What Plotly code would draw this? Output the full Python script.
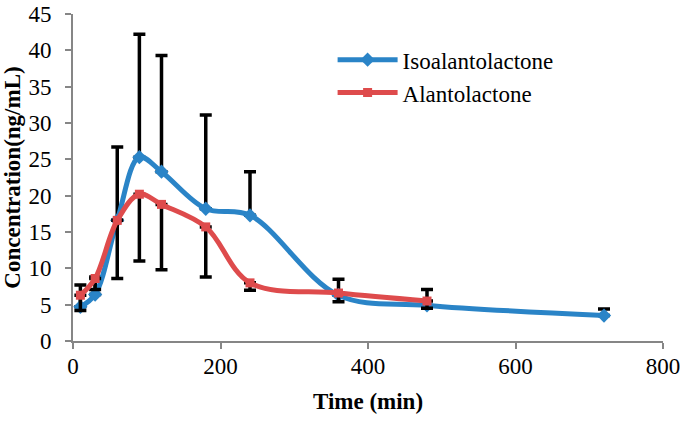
import plotly.graph_objects as go

# sampling times (min)
time_iso = [10, 30, 60, 90, 120, 180, 240, 360, 480, 720]
time_ala = [10, 30, 60, 90, 120, 180, 240, 360, 480]

# mean plasma concentrations (ng/mL)
conc_iso = [4.7, 6.4, 16.6, 25.3, 23.3, 18.2, 17.3, 6.3, 4.9, 3.5]
conc_ala = [6.3, 8.6, 16.6, 20.2, 18.8, 15.7, 8.0, 6.6, 5.5]

# error bars as drawn: upward on Isoalantolactone, downward on Alantolactone
err_up_iso = [3.0, 2.4, 10.1, 16.9, 16.0, 12.9, 6.0, 2.2, 2.2, 0.9]
err_down_ala = [2.1, 1.5, 8.0, 9.2, 9.0, 6.9, 1.0, 1.2, 1.0]

BLUE = "#2A84C7"
RED = "#DE4B4C"
FONT = "Liberation Serif"

fig = go.Figure()
fig.add_trace(go.Scatter(
    x=time_iso, y=conc_iso, name="Isoalantolactone",
    mode="lines+markers",
    line=dict(color=BLUE, width=5, shape="spline", smoothing=1.0),
    marker=dict(symbol="diamond", size=11, color=BLUE),
    error_y=dict(type="data", symmetric=False, array=err_up_iso,
                 arrayminus=[0] * len(err_up_iso),
                 color="black", thickness=3.5, width=6),
))
fig.add_trace(go.Scatter(
    x=time_ala, y=conc_ala, name="Alantolactone",
    mode="lines+markers",
    line=dict(color=RED, width=5, shape="spline", smoothing=1.0),
    marker=dict(symbol="square", size=9, color=RED),
    error_y=dict(type="data", symmetric=False, array=[0] * len(err_down_ala),
                 arrayminus=err_down_ala,
                 color="black", thickness=3.5, width=6),
))

axis_common = dict(
    showline=True, linecolor="#868686", linewidth=2,
    ticks="outside", tickcolor="#868686", ticklen=6, tickwidth=2,
    showgrid=False, zeroline=False, automargin=False, ticklabeloverflow="allow",
    tickfont=dict(family=FONT, size=23, color="black"),
)
fig.update_xaxes(
    range=[0, 800], tickvals=[0, 200, 400, 600, 800], ticklabelstandoff=-3,
    title=dict(text="<b>Time (min)</b>", font=dict(family=FONT, size=23, color="black"), standoff=15),
    **axis_common,
)
fig.update_yaxes(
    range=[0, 45], tickvals=list(range(0, 50, 5)), ticklabelstandoff=9,
    title=dict(text="<b>Concentration(ng/mL)</b>", font=dict(family=FONT, size=23, color="black"), standoff=4),
    **axis_common,
)

fig.update_layout(
    width=687, height=421,
    margin=dict(l=73, r=24, t=14, b=80),
    paper_bgcolor="white", plot_bgcolor="white",
    font=dict(family=FONT, size=23, color="black"),
    legend=dict(x=0.44, y=0.926, xanchor="left", yanchor="top", itemwidth=60,
                font=dict(family=FONT, size=23, color="black"),
                bgcolor="rgba(0,0,0,0)", tracegroupgap=13),
    showlegend=True,
)

# drop the default page margin so the figure fills the window exactly
fig.write_html("out.html", config={"displayModeBar": False},
               post_script="document.body.style.margin='0';")
